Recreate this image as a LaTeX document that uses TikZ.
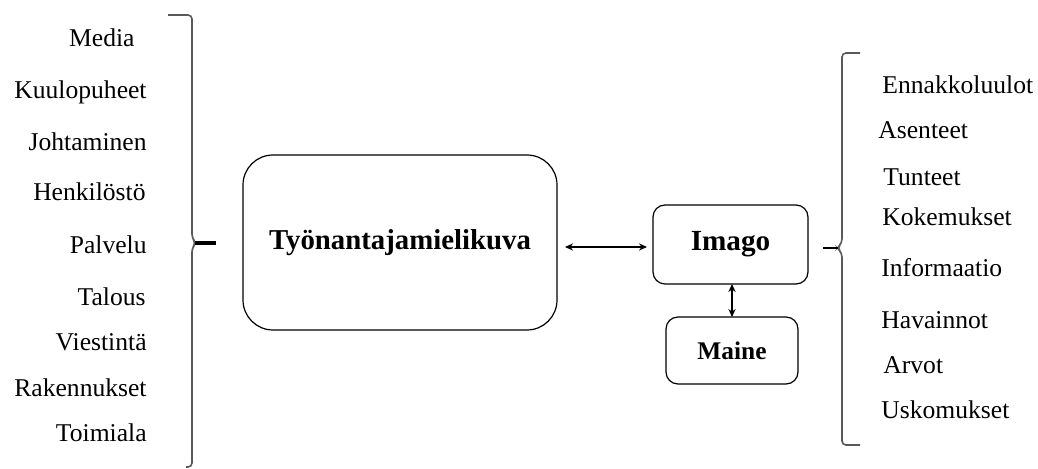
\documentclass[tikz,border=0pt]{standalone}
\usepackage{fontspec}
\setmainfont{Liberation Serif}
\newfontfamily\timesfont{Liberation Serif}
\usetikzlibrary{arrows.meta, positioning}
\tikzstyle{arrow} = [line width=0.6pt,{Stealth[length=4pt,width=3.6pt]}-{Stealth[length=4pt,width=3.6pt]}]
\tikzstyle{bigbox} = [rectangle, rounded corners=15pt, minimum width=157pt, minimum height=87.5pt, outer sep=0pt, draw=black, line width=0.6pt, font=\timesfont\fontsize{14.4}{17}\selectfont\bfseries]
\tikzstyle{imagobox} = [rectangle, rounded corners=6pt, minimum width=77.5pt, minimum height=39.5pt, outer sep=0pt, draw=black, line width=0.6pt, font=\timesfont\fontsize{14.6}{17}\selectfont\bfseries]
\tikzstyle{mainebox} = [rectangle, rounded corners=6pt, minimum width=66pt, minimum height=33.5pt, outer sep=0pt, draw=black, line width=0.6pt, font=\timesfont\fontsize{12.7}{15}\selectfont\bfseries]
\tikzstyle{factor} = [inner sep=0pt, font=\timesfont\fontsize{12.8}{15}\selectfont]
\tikzstyle{brace} = [draw=black!65, line width=0.8pt, rounded corners=2pt]

\begin{document}
\begin{tikzpicture}[x=0.5pt, y=-0.5pt]
\useasboundingbox (0,0) rectangle (1038,469);

\node (tyonantaja) [bigbox] at (400,242.5) {Työnantajamielikuva};
\node (imago) [imagobox] at (730.5,244.5) {Imago};
\node (maine) [mainebox] at (732,350.5) {Maine};

% left factors
\node (media) [factor, anchor=east] at (135,38) {Media};
\node (kuulo) [factor, anchor=east] at (147,92) {Kuulopuheet};
\node (johta) [factor, anchor=east] at (147,142) {Johtaminen};
\node (henki) [factor, anchor=east] at (146,192) {Henkilöstö};
\node (palvelu) [factor, anchor=east] at (147,245) {Palvelu};
\node (talous) [factor, anchor=east] at (146,297) {Talous};
\node (viesti) [factor, anchor=east] at (147,342) {Viestintä};
\node (raken) [factor, anchor=east] at (147,388) {Rakennukset};
\node (toimiala) [factor, anchor=east] at (147,433) {Toimiala};

% right factors
\node (ennakko) [factor, anchor=west] at (882,85) {Ennakkoluulot};
\node (asenteet) [factor, anchor=west] at (878,130) {Asenteet};
\node (tunteet) [factor, anchor=west] at (883,177) {Tunteet};
\node (kokem) [factor, anchor=west] at (882,217) {Kokemukset};
\node (info) [factor, anchor=west] at (881,268) {Informaatio};
\node (havain) [factor, anchor=west] at (881,320) {Havainnot};
\node (arvot) [factor, anchor=west] at (883,365) {Arvot};
\node (usko) [factor, anchor=west] at (881,410) {Uskomukset};

% braces
\draw [brace] (168,15) -- (192,15) -- (192,238) -- (196,243) -- (192,248) -- (192,467) -- (186,467);
\coordinate (l_tip) at (195,243);
\coordinate (l_stub) at (216,243);
\draw [line width=2pt] (l_tip) -- (l_stub);

\draw [brace] (860,53) -- (842,53) -- (842,243) -- (837,248) -- (842,253) -- (842,445) -- (860,445);
\coordinate (r_tip) at (838,248);
\coordinate (r_stub) at (823,248);
\draw [line width=0.6pt] (r_tip) -- (r_stub);

\draw [arrow, shorten <=4pt, shorten >=3pt] (tyonantaja.east |- 0,247) -- (imago.west |- 0,247);
\draw [arrow] (imago.south -| 732,0) -- (maine.north);
\end{tikzpicture}
\end{document}
